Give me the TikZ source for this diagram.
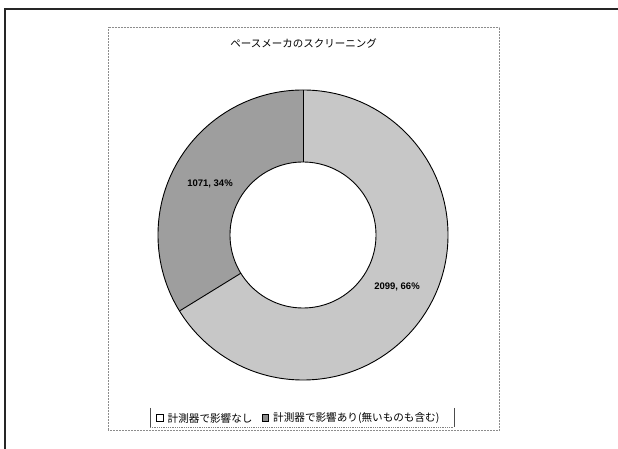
\documentclass[tikz,border=0pt]{standalone}
\usepackage{fontspec}
\setmainfont{Liberation Sans}
\newfontfamily\jp{Noto Sans CJK JP}
\begin{document}
\begin{tikzpicture}[x=1pt,y=1pt,
  frame/.style={draw=black!85,line width=1.2pt},
  plotbox/.style={draw=black!45,densely dotted,line width=0.5pt},
  sliceedge/.style={draw=black,line width=0.9pt},
  lightslice/.style={fill=black!22},
  darkslice/.style={fill=black!38},
  datalabel/.style={font=\bfseries\fontsize{9.5}{11}\selectfont,inner sep=0pt},
  legtext/.style={font=\jp\fontsize{10.6}{13}\selectfont,inner sep=0pt,anchor=west},
  legkey/.style={draw=black,line width=0.8pt,minimum size=6.5pt,inner sep=0pt}]
\useasboundingbox (0,0) rectangle (618,449);
% outer frame
\draw[frame] (5,0) -- (5,440) -- (618,440);
% plot area
\draw[plotbox] (108,19) rectangle (499,422);
% title
\node[font=\jp\fontsize{10.5}{12}\selectfont,inner sep=0pt] (title) at (303.5,406) {ペースメーカのスクリーニング};
% donut
\begin{scope}[shift={(303,214)}]
  \path[lightslice] (90:145) arc[start angle=90,end angle=-148.4,radius=145]
     -- (211.6:73) arc[start angle=211.6,end angle=450,radius=73] -- cycle;
  \path[darkslice] (90:145) arc[start angle=90,end angle=211.6,radius=145]
     -- (211.6:73) arc[start angle=211.6,end angle=90,radius=73] -- cycle;
  \draw[sliceedge] (0,0) circle[radius=145];
  \draw[sliceedge,fill=white] (0,0) circle[radius=73];
  \draw[sliceedge] (90:73) -- (90:145);
  \draw[sliceedge] (211.6:73) -- (211.6:145);
\end{scope}
\node[datalabel] (lbldark) at (210,265) {1071, 34\%};
\node[datalabel] (lbllight) at (397,162) {2099, 66\%};
% legend
\draw[black!70,line width=0.6pt] (150,41) -- (150,22);
\draw[black!70,line width=0.6pt] (454,41) -- (454,22);
\draw[black!50,densely dotted,line width=0.8pt] (150,22) -- (454,22);
\node[legkey,fill=white] (key1) at (160,31) {};
\node[legtext] (leg1) at (167.5,31) {計測器で影響なし};
\node[legkey,fill=black!45] (key2) at (265.5,31) {};
\node[legtext] (leg2) at (273,31) {計測器で影響あり(無いものも含む)};
\end{tikzpicture}
\end{document}
